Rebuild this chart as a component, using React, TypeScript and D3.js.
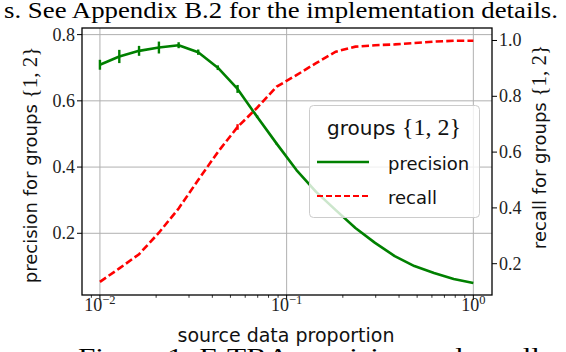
import * as d3 from "d3";

const W = 566, H = 352;
const FRAME = { left: 82, right: 492, top: 28, bottom: 295 };

// source data proportion (log spaced, 20 points)
const proportions = [
  0.01, 0.0127, 0.0162, 0.0207, 0.0264, 0.0336, 0.0428, 0.0546, 0.0695, 0.0886,
  0.1129, 0.1438, 0.1833, 0.2336, 0.2976, 0.3793, 0.4833, 0.6158, 0.7848, 1.0,
];
const precision = [
  0.709, 0.734, 0.751, 0.761, 0.768, 0.747, 0.700, 0.636, 0.552, 0.470,
  0.391, 0.325, 0.270, 0.216, 0.171, 0.131, 0.101, 0.080, 0.062, 0.050,
];
const precisionErr = [
  0.015, 0.02, 0.015, 0.018, 0.009, 0.008, 0.007, 0.012, 0.004, 0.003,
  0, 0, 0, 0, 0, 0, 0, 0, 0, 0,
];
const recall = [
  0.135, 0.183, 0.234, 0.311, 0.398, 0.500, 0.600, 0.690, 0.759, 0.835,
  0.876, 0.919, 0.960, 0.978, 0.983, 0.986, 0.991, 0.996, 0.999, 0.999,
];
const recallErr = [
  0, 0, 0, 0, 0, 0, 0, 0.01, 0, 0,
  0, 0, 0, 0, 0, 0, 0, 0, 0, 0,
];

const xTicks = [0.01, 0.1, 1];
const xTickExp = ["\u22122", "\u22121", "0"];
const leftTicks = [0.2, 0.4, 0.6, 0.8];
const rightTicks = [0.2, 0.4, 0.6, 0.8, 1.0];

const GREEN = "#008000", RED = "#ff0000", GRID = "#b0b0b0";
const SANS = "'DejaVu Sans', sans-serif";
const SERIF = "'Liberation Serif', 'DejaVu Serif', serif";

const x = d3.scaleLog().domain([Math.pow(10, -2.096), Math.pow(10, 0.1)]).range([FRAME.left, FRAME.right]);
const yL = d3.scaleLinear().domain([0.0136, 0.820]).range([FRAME.bottom, FRAME.top]);
const yR = d3.scaleLinear().domain([0.0878, 1.0448]).range([FRAME.bottom, FRAME.top]);

// minor ticks 2..9 x 10^k within range
const minorTicks = x.ticks().filter(t => !xTicks.includes(t));

export default function App() {
  const lineP = d3.line<number>().x((_, i) => x(proportions[i])).y(d => yL(d));
  const lineR = d3.line<number>().x((_, i) => x(proportions[i])).y(d => yR(d));

  return (
    <svg width={W} height={H} style={{ position: "absolute", left: 0, top: 0, background: "#fff" }}>
      {/* paper text around the figure */}
      <text x={4} y={18} fontFamily="'Liberation Serif', serif" fontSize={23} textLength={554} lengthAdjust="spacingAndGlyphs">
        s. See Appendix B.2 for the implementation details.
      </text>
      <text x={78} y={364} fontFamily="'Liberation Serif', serif" fontSize={23} textLength={462} lengthAdjust="spacingAndGlyphs">
        Figure 1: F-TRA precision and recall
      </text>

      {/* grid */}
      {xTicks.map(t => (
        <line key={"gx" + t} x1={x(t)} x2={x(t)} y1={FRAME.top} y2={FRAME.bottom} stroke={GRID} strokeWidth={1} />
      ))}
      {leftTicks.map(t => (
        <line key={"gy" + t} x1={FRAME.left} x2={FRAME.right} y1={yL(t)} y2={yL(t)} stroke={GRID} strokeWidth={1} />
      ))}

      {/* recall */}
      <path d={lineR(recall) ?? ""} fill="none" stroke={RED} strokeWidth={2.6} strokeDasharray="7.4,3.2" />
      {recall.map((v, i) => recallErr[i] > 0 && (
        <line key={"re" + i} x1={x(proportions[i])} x2={x(proportions[i])}
          y1={yR(v - recallErr[i])} y2={yR(v + recallErr[i])} stroke={RED} strokeWidth={2.4} />
      ))}

      {/* precision */}
      <path d={lineP(precision) ?? ""} fill="none" stroke={GREEN} strokeWidth={2.6} strokeLinejoin="round" />
      {precision.map((v, i) => precisionErr[i] > 0 && (
        <line key={"pe" + i} x1={x(proportions[i])} x2={x(proportions[i])}
          y1={yL(v - precisionErr[i])} y2={yL(v + precisionErr[i])} stroke={GREEN} strokeWidth={2.4} />
      ))}

      {/* frame */}
      <rect x={FRAME.left} y={FRAME.top} width={FRAME.right - FRAME.left} height={FRAME.bottom - FRAME.top}
        fill="none" stroke="#000" strokeWidth={1.3} />

      {/* x axis */}
      {xTicks.map((t, i) => (
        <g key={"xt" + t}>
          <line x1={x(t)} x2={x(t)} y1={FRAME.bottom} y2={FRAME.bottom + 5} stroke="#000" strokeWidth={1} />
          <text x={x(t)} y={311} textAnchor="middle" fontFamily={SERIF} fontSize={18} fill="#222">
            10<tspan dy={-7} fontSize={12.5}>{xTickExp[i]}</tspan>
          </text>
        </g>
      ))}
      {minorTicks.map(t => (
        <line key={"mt" + t} x1={x(t)} x2={x(t)} y1={FRAME.bottom} y2={FRAME.bottom + 2.8} stroke="#000" strokeWidth={0.8} />
      ))}
      <text x={286} y={342} textAnchor="middle" fontFamily={SANS} fontSize={19} fill="#111">source data proportion</text>

      {/* left axis */}
      {leftTicks.map(t => (
        <g key={"yl" + t}>
          <line x1={FRAME.left - 5} x2={FRAME.left} y1={yL(t)} y2={yL(t)} stroke="#000" strokeWidth={1} />
          <text x={75} y={yL(t) + 6} textAnchor="end" fontFamily={SERIF} fontSize={18} fill="#222">{t.toFixed(1)}</text>
        </g>
      ))}
      <text transform={`translate(37,${165}) rotate(-90)`} textAnchor="middle" fontFamily={SANS} fontSize={18} fill="#111">
        precision for groups <tspan fontFamily={SERIF} fontSize={21}>{"{1, 2}"}</tspan>
      </text>

      {/* right axis */}
      {rightTicks.map(t => (
        <g key={"yr" + t}>
          <line x1={FRAME.right} x2={FRAME.right + 5} y1={yR(t)} y2={yR(t)} stroke="#000" strokeWidth={1} />
          <text x={499} y={yR(t) + 6} textAnchor="start" fontFamily={SERIF} fontSize={18} fill="#222">{t.toFixed(1)}</text>
        </g>
      ))}
      <text transform={`translate(546,${147}) rotate(-90)`} textAnchor="middle" fontFamily={SANS} fontSize={18} fill="#111">
        recall for groups <tspan fontFamily={SERIF} fontSize={21}>{"{1, 2}"}</tspan>
      </text>

      {/* legend */}
      <rect x={309.5} y={105.5} width={170} height={112} rx={4} fill="#fff" fillOpacity={0.8} stroke="#cccccc" strokeWidth={1} />
      <text x={394} y={135} textAnchor="middle" fontFamily={SANS} fontSize={20} fill="#111">
        groups <tspan fontFamily={SERIF} fontSize={24}>{"{1, 2}"}</tspan>
      </text>
      <line x1={317} x2={369} y1={162} y2={162} stroke={GREEN} strokeWidth={2.6} />
      <text x={388} y={170} fontFamily={SANS} fontSize={18} fill="#111">precision</text>
      <line x1={317} x2={369} y1={196} y2={196} stroke={RED} strokeWidth={2} strokeDasharray="6,3" />
      <text x={388} y={204} fontFamily={SANS} fontSize={18} fill="#111">recall</text>
    </svg>
  );
}
